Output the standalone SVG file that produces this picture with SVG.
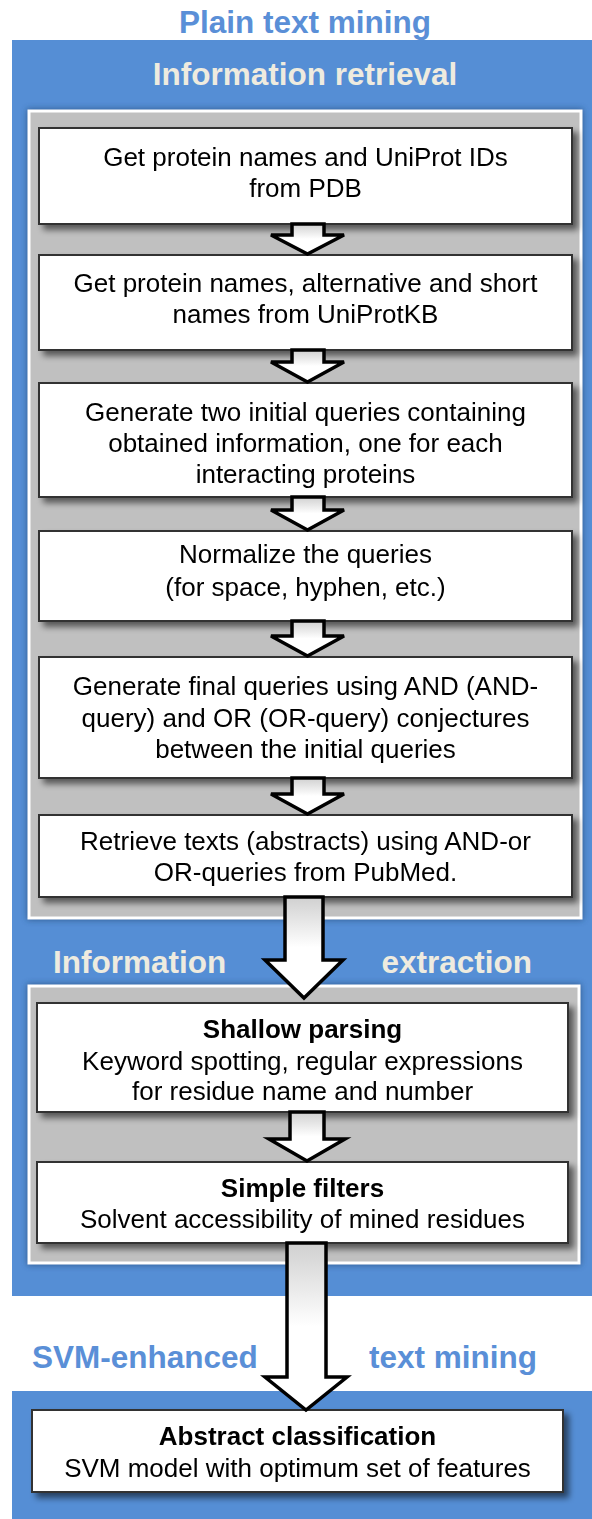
<svg xmlns="http://www.w3.org/2000/svg" width="592" height="1519" viewBox="0 0 592 1519">
<defs>
<style>
.title{font-family:"Liberation Sans",Arial,sans-serif;font-weight:bold;font-size:31.5px}
.blueT{fill:#5a8fd7}
.cream{fill:#eeebdf}
.blue{fill:#558ed5}
.panel{fill:#c0c0c0;stroke:#ffffff;stroke-width:3}
.box{fill:#ffffff;stroke:#333333;stroke-width:2}
.t{font-family:"Liberation Sans",Arial,sans-serif;font-size:26px;fill:#000;text-anchor:middle}
.b{font-weight:bold}
.arrow{fill:url(#ag);stroke:#000;stroke-width:3.5;stroke-linejoin:miter}
</style>
<linearGradient id="ag" x1="0" y1="0" x2="0" y2="1">
<stop offset="0" stop-color="#d0d0d0"/>
<stop offset="0.5" stop-color="#ffffff"/>
<stop offset="1" stop-color="#ffffff"/>
</linearGradient>
<filter id="sh" x="-10%" y="-10%" width="120%" height="130%">
<feGaussianBlur in="SourceAlpha" stdDeviation="3"/>
<feOffset dx="5" dy="5" result="o"/>
<feComponentTransfer><feFuncA type="linear" slope="0.55"/></feComponentTransfer>
<feMerge><feMergeNode/><feMergeNode in="SourceGraphic"/></feMerge>
</filter>
<filter id="glow" x="-5%" y="-5%" width="110%" height="110%">
<feGaussianBlur stdDeviation="3"/>
</filter>
</defs>

<g id="title"><text class="title blueT" x="305" y="33" text-anchor="middle">Plain text mining</text></g>

<g id="bluePanel1">
<rect class="blue" x="12" y="40" width="580" height="1256"/>
<text class="title cream" x="305" y="85" text-anchor="middle">Information retrieval</text>
<text class="title cream" x="53" y="973">Information</text>
<text class="title cream" x="532" y="973" text-anchor="end">extraction</text>
</g>

<g id="panelIR">
<rect x="27" y="109" width="556" height="811" fill="#1f3c66" opacity="0.6" filter="url(#glow)"/>
<rect class="panel" x="29" y="111" width="552" height="807"/>
</g>
<g id="panelIE">
<rect x="27" y="984" width="554" height="281" fill="#1f3c66" opacity="0.6" filter="url(#glow)"/>
<rect class="panel" x="29" y="986" width="550" height="277"/>
</g>

<g id="box1" filter="url(#sh)">
<rect class="box" x="39" y="128" width="533" height="96"/>
<text class="t" x="305.5" y="166">Get protein names and UniProt IDs</text>
<text class="t" x="305.5" y="197">from PDB</text>
</g>
<g id="box2" filter="url(#sh)">
<rect class="box" x="39" y="255" width="533" height="95"/>
<text class="t" x="305.5" y="292">Get protein names, alternative and short</text>
<text class="t" x="305.5" y="323">names from UniProtKB</text>
</g>
<g id="box3" filter="url(#sh)">
<rect class="box" x="39" y="383" width="533" height="114"/>
<text class="t" x="305.5" y="421">Generate two initial queries containing</text>
<text class="t" x="305.5" y="452">obtained information, one for each</text>
<text class="t" x="305.5" y="483">interacting proteins</text>
</g>
<g id="box4" filter="url(#sh)">
<rect class="box" x="39" y="531" width="533" height="90"/>
<text class="t" x="305.5" y="563">Normalize the queries</text>
<text class="t" x="305.5" y="596">(for space, hyphen, etc.)</text>
</g>
<g id="box5" filter="url(#sh)">
<rect class="box" x="39" y="657" width="533" height="121"/>
<text class="t" x="305.5" y="695">Generate final queries using AND (AND-</text>
<text class="t" x="305.5" y="727">query) and OR (OR-query) conjectures</text>
<text class="t" x="305.5" y="758">between the initial queries</text>
</g>
<g id="box6" filter="url(#sh)">
<rect class="box" x="39" y="815" width="533" height="82"/>
<text class="t" x="305.5" y="850">Retrieve texts (abstracts) using AND-or</text>
<text class="t" x="305.5" y="881">OR-queries from PubMed.</text>
</g>
<g id="box7" filter="url(#sh)">
<rect class="box" x="37" y="1003" width="531" height="109"/>
<text class="t b" x="302.5" y="1038">Shallow parsing</text>
<text class="t" x="302.5" y="1070">Keyword spotting, regular expressions</text>
<text class="t" x="302.5" y="1100">for residue name and number</text>
</g>
<g id="box8" filter="url(#sh)">
<rect class="box" x="37" y="1162" width="531" height="81"/>
<text class="t b" x="302.5" y="1197">Simple filters</text>
<text class="t" x="302.5" y="1228">Solvent accessibility of mined residues</text>
</g>

<g id="svmTitle">
<text class="title blueT" x="32" y="1368">SVM-enhanced</text>
<text class="title blueT" x="537" y="1368" text-anchor="end">text mining</text>
</g>
<g id="bluePanel2"><rect class="blue" x="12" y="1391" width="580" height="128"/></g>
<g id="box9" filter="url(#sh)">
<rect class="box" x="32" y="1410" width="531" height="82"/>
<text class="t b" x="297.5" y="1445">Abstract classification</text>
<text class="t" x="297.5" y="1477">SVM model with optimum set of features</text>
</g>

<g id="connectors">
<polygon class="arrow" points="292,224 324,224 324,235 344,235 307.5,254 271,235 292,235"/>
<polygon class="arrow" points="292,350 324,350 324,362 344,362 307.5,382 271,362 292,362"/>
<polygon class="arrow" points="292,497 324,497 324,510 344,510 307.5,530 271,510 292,510"/>
<polygon class="arrow" points="292,621 324,621 324,636 344,636 307.5,656 271,636 292,636"/>
<polygon class="arrow" points="292,778 324,778 324,794 344,794 307.5,814 271,794 292,794"/>
<polygon class="arrow" points="285,897 323,897 323,960 343,960 304,998 265,960 285,960"/>
<polygon class="arrow" points="290,1112 324,1112 324,1139 345,1139 307,1161 269,1139 290,1139"/>
<polygon class="arrow" points="287,1243 326,1243 326,1377 347,1377 306,1410 265,1377 287,1377"/>
</g>
</svg>
